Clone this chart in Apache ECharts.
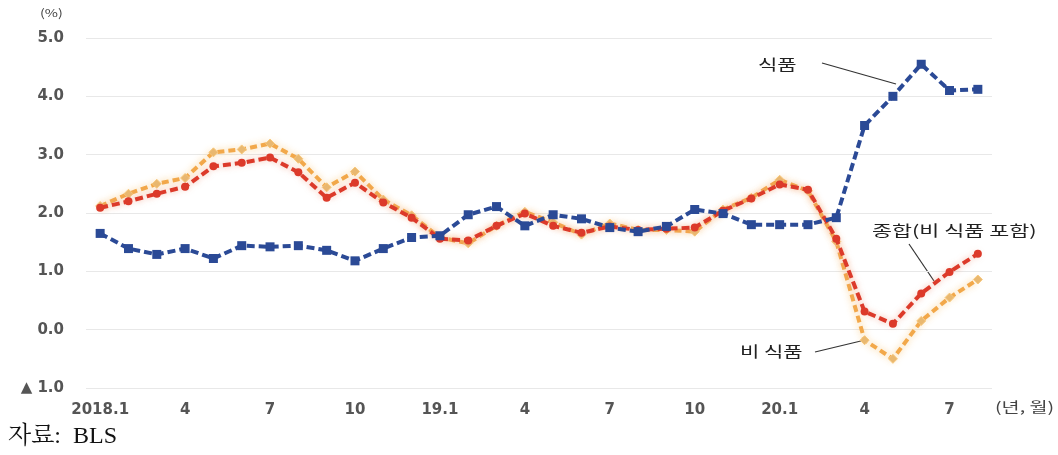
<!DOCTYPE html>
<html><head><meta charset="utf-8">
<script src="https://cdn.jsdelivr.net/npm/echarts@6/dist/echarts.min.js"></script>
<style>html,body{margin:0;padding:0;background:#fff}#c{width:1058px;height:455px}</style>
</head><body><div id="c"></div>
<script>
const categories = ["2018.1","2","3","4","5","6","7","8","9","10","11","12",
  "19.1","2","3","4","5","6","7","8","9","10","11","12",
  "20.1","2","3","4","5","6","7","8"];
const food = [1.65,1.39,1.29,1.39,1.22,1.44,1.42,1.44,1.36,1.18,1.39,1.58,
  1.61,1.97,2.11,1.78,1.97,1.90,1.75,1.68,1.77,2.06,1.99,1.80,
  1.80,1.80,1.92,3.50,4.00,4.55,4.10,4.12];
const total = [2.09,2.20,2.33,2.45,2.80,2.86,2.95,2.70,2.26,2.52,2.18,1.92,
  1.56,1.53,1.78,1.99,1.78,1.66,1.77,1.71,1.73,1.75,2.04,2.25,
  2.49,2.40,1.56,0.31,0.10,0.62,0.99,1.30];
const nonFood = [2.12,2.33,2.50,2.60,3.04,3.09,3.19,2.93,2.44,2.71,2.23,1.96,
  1.58,1.48,1.78,2.02,1.84,1.63,1.82,1.71,1.71,1.68,2.06,2.26,
  2.57,2.38,1.51,-0.18,-0.50,0.15,0.55,0.86];
const yTickLabels = {"-1":"▲ 1.0","0":"0.0","1":"1.0","2":"2.0","3":"3.0","4":"4.0","5":"5.0"};

const chart = echarts.init(document.getElementById('c'));
const font = "'Noto Sans CJK KR','Noto Sans',sans-serif";
const tickFont = "Verdana, 'DejaVu Sans', sans-serif";
chart.setOption({
  animation:false,
  grid:{left:86,right:66,top:38,bottom:67},
  xAxis:{type:'category',data:categories,boundaryGap:true,
    axisLine:{show:false},axisTick:{show:false},
    axisLabel:{interval:2,color:'#555',fontWeight:'bold',fontSize:15,margin:15,fontFamily:tickFont},
    splitLine:{show:false}},
  yAxis:{type:'value',min:-1,max:5,interval:1,
    axisLine:{show:false},axisTick:{show:false},
    axisLabel:{color:'#555',fontWeight:'bold',fontSize:15,margin:22,fontFamily:tickFont,
      formatter:v=>yTickLabels[String(v)]},
    splitLine:{lineStyle:{color:'#e8e8e8',width:1}}},
  series:[
    {name:'비 식품',type:'line',data:nonFood,symbol:'diamond',symbolSize:9,z:2,
      lineStyle:{color:'#f2a84a',width:4,type:[7,4],shadowColor:'rgba(250,200,120,0.9)',shadowBlur:7},
      itemStyle:{color:'#e9b870',borderColor:'#f7c77a',borderWidth:1}},
    {name:'종합(비 식품 포함)',type:'line',data:total,symbol:'circle',symbolSize:8,z:3,
      lineStyle:{color:'#dc3a2a',width:4,type:[8,4],shadowColor:'rgba(240,150,120,0.7)',shadowBlur:6},
      itemStyle:{color:'#dc3a2a'}},
    {name:'식품',type:'line',data:food,symbol:'rect',symbolSize:9,z:4,
      lineStyle:{color:'#2b4a96',width:4,type:[8,4]},
      itemStyle:{color:'#2b4a96'}}
  ],
  graphic:[
    {type:'text',x:40,y:7,scaleX:1.3,style:{text:'(%)',fontSize:11,fill:'#444',fontFamily:font}},
    {type:'text',x:995,y:400,scaleX:1.4,style:{text:'(년, 월)',fontSize:14,fill:'#444',fontFamily:font}},
    {type:'text',x:8,y:425,style:{text:'자료:  BLS',fontSize:24,fill:'#111',fontFamily:"'Liberation Serif','Noto Serif CJK KR',serif"}},
    {type:'text',x:758,y:57,scaleX:1.4,style:{text:'식품',fontSize:15,fill:'#222',fontFamily:font}},
    {type:'line',shape:{x1:822,y1:63,x2:896,y2:84},style:{stroke:'#333',lineWidth:1.2}},
    {type:'text',x:872,y:223,scaleX:1.45,style:{text:'종합(비 식품 포함)',fontSize:15,fill:'#222',fontFamily:font}},
    {type:'line',shape:{x1:909,y1:244,x2:934,y2:281},style:{stroke:'#333',lineWidth:1.2}},
    {type:'text',x:740,y:344,scaleX:1.4,style:{text:'비 식품',fontSize:15,fill:'#222',fontFamily:font}},
    {type:'line',shape:{x1:815,y1:352,x2:865,y2:340},style:{stroke:'#333',lineWidth:1.2}}
  ]
});
</script></body></html>
